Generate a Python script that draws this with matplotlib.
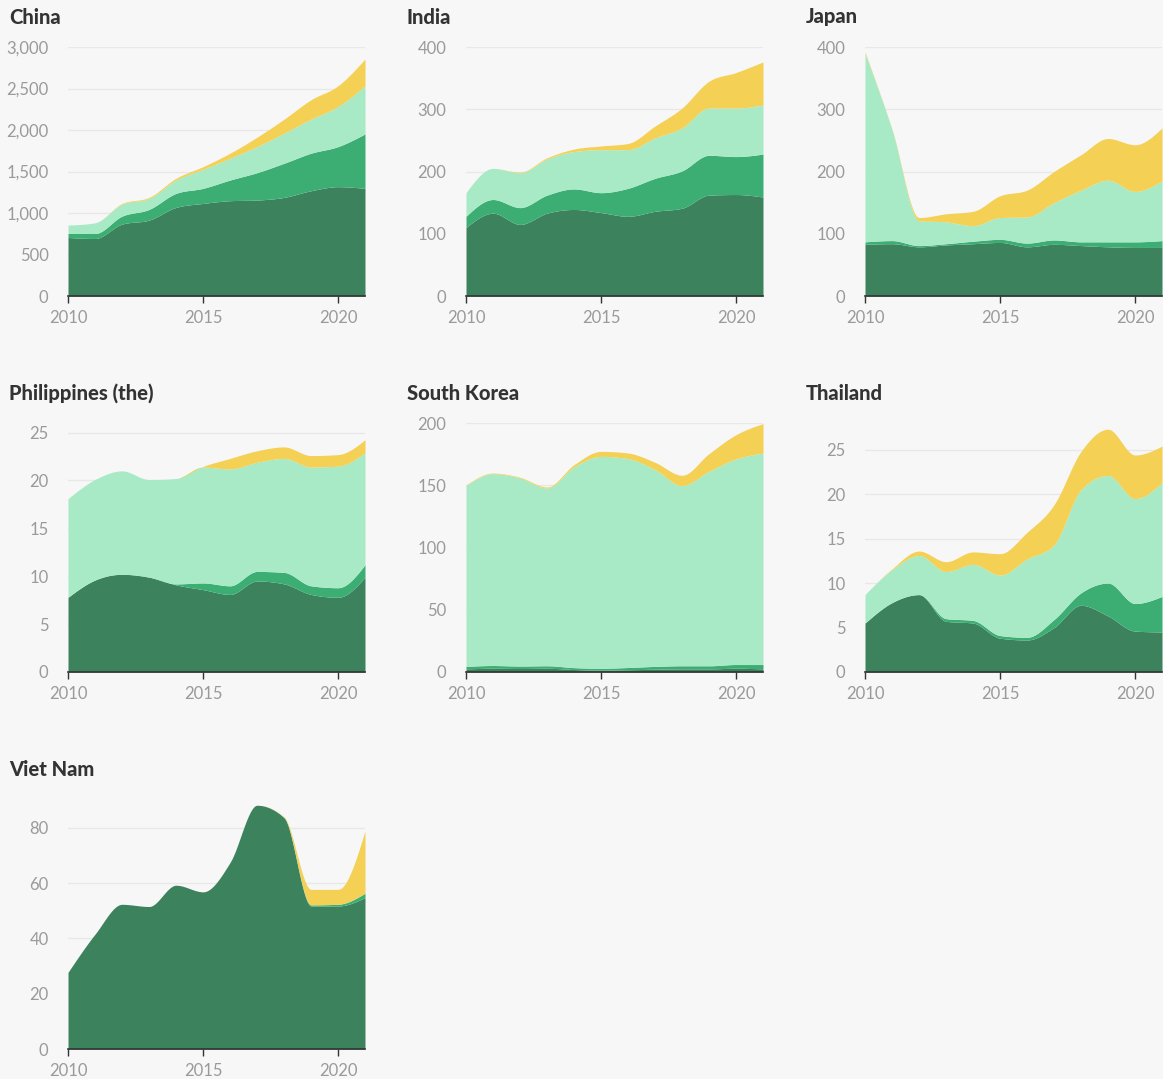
import numpy as np
import matplotlib
matplotlib.use("Agg")
import matplotlib.pyplot as plt
from matplotlib.ticker import FuncFormatter

plt.rcParams['font.family'] = ['Lato', 'DejaVu Sans']

years = list(range(2010, 2022))

countries = ["China", "India", "Japan", "Philippines (the)", "South Korea", "Thailand", "Viet Nam"]

china_dark = [705, 693, 866, 914, 1067, 1115, 1148, 1156, 1188, 1268, 1317, 1297]
china_mid = [48, 60, 96, 129, 169, 182, 249, 330, 411, 452, 483, 656]
china_light = [101, 129, 145, 133, 161, 229, 262, 314, 362, 410, 483, 580]
china_yellow = [0, 0, 8, 12, 21, 32, 61, 113, 169, 234, 250, 322]

india_dark = [110, 133, 115, 133, 139, 134, 128, 136, 141, 162, 163, 159]
india_mid = [18, 22, 27, 29, 33, 32, 45, 53, 60, 64, 61, 69]
india_light = [38, 50, 56, 58, 60, 69, 62, 65, 69, 76, 78, 79]
india_yellow = [0, 0, 1, 2, 4, 6, 10, 19, 32, 43, 57, 69]

japan_dark = [83, 84, 79, 82, 84, 86, 79, 83, 81, 79, 78, 78]
japan_mid = [4, 5, 2, 2, 4, 5, 6, 7, 6, 8, 9, 11]
japan_light = [303, 178, 40, 35, 25, 35, 42, 60, 83, 99, 81, 96]
japan_yellow = [2, 1, 5, 13, 23, 35, 43, 50, 57, 67, 75, 85]

phil_dark = [7.8, 9.6, 10.2, 9.9, 9.1, 8.6, 8.1, 9.5, 9.2, 8.1, 7.8, 9.9]
phil_mid = [0, 0, 0, 0, 0.1, 0.7, 0.9, 1.0, 1.2, 0.9, 1.0, 1.3]
phil_light = [10.3, 10.5, 10.8, 10.2, 11.0, 12.1, 12.2, 11.4, 11.9, 12.4, 12.7, 11.7]
phil_yellow = [0, 0, 0, 0, 0, 0.07, 1.1, 1.2, 1.2, 1.2, 1.2, 1.35]

korea_dark = [2.5, 3.0, 2.8, 3.0, 2.0, 1.5, 1.8, 2.2, 2.5, 2.5, 3.0, 2.5]
korea_mid = [2.0, 2.2, 2.0, 2.0, 1.5, 1.5, 1.8, 2.3, 2.5, 2.5, 3.0, 3.5]
korea_light = [145.2, 154.1, 151.0, 142.8, 161.2, 170.2, 167.8, 158.0, 144.7, 156.2, 165.1, 169.9]
korea_yellow = [0.5, 0.5, 0.6, 0.8, 1.8, 4.0, 4.5, 5.9, 8.3, 14.2, 19.5, 23.6]

thai_dark = [5.5, 7.8, 8.7, 5.7, 5.5, 3.8, 3.6, 5.0, 7.5, 6.3, 4.6, 4.5]
thai_mid = [0, 0, 0, 0.3, 0.3, 0.3, 0.3, 0.9, 1.4, 3.7, 3.1, 4.0]
thai_light = [3.2, 3.7, 4.4, 5.3, 6.3, 6.8, 8.8, 8.4, 11.6, 12.1, 11.8, 12.8]
thai_yellow = [0, 0.1, 0.5, 1.1, 1.4, 2.4, 3.0, 4.5, 4.3, 5.2, 4.9, 4.1]

viet_dark = [27.7, 41.5, 52.3, 51.5, 59.2, 56.8, 67.4, 88.1, 83.6, 51.7, 51.7, 54.7]
viet_mid = [0, 0, 0, 0, 0, 0, 0, 0, 0.1, 0.4, 0.6, 1.6]
viet_light = [0, 0, 0, 0, 0, 0, 0, 0, 0, 0, 0, 0]
viet_yellow = [0, 0, 0, 0, 0, 0, 0, 0, 0.2, 5.6, 5.4, 22.5]

series = {
    "China": [china_dark, china_mid, china_light, china_yellow],
    "India": [india_dark, india_mid, india_light, india_yellow],
    "Japan": [japan_dark, japan_mid, japan_light, japan_yellow],
    "Philippines (the)": [phil_dark, phil_mid, phil_light, phil_yellow],
    "South Korea": [korea_dark, korea_mid, korea_light, korea_yellow],
    "Thailand": [thai_dark, thai_mid, thai_light, thai_yellow],
    "Viet Nam": [viet_dark, viet_mid, viet_light, viet_yellow],
}

y_max = {"China": 3000, "India": 400, "Japan": 400, "Philippines (the)": 26,
         "South Korea": 200, "Thailand": 28, "Viet Nam": 90}
y_ticks = {"China": [0, 500, 1000, 1500, 2000, 2500, 3000],
           "India": [0, 100, 200, 300, 400],
           "Japan": [0, 100, 200, 300, 400],
           "Philippines (the)": [0, 5, 10, 15, 20, 25],
           "South Korea": [0, 50, 100, 150, 200],
           "Thailand": [0, 5, 10, 15, 20, 25],
           "Viet Nam": [0, 20, 40, 60, 80]}

colors = ["#3b825d", "#3cae74", "#a8eac5", "#f4d055"]
BG = "#f7f7f7"


def monotone_curve(x, y, n=40):
    """d3.curveMonotoneX style cubic Hermite through points."""
    x = np.asarray(x, float)
    y = np.asarray(y, float)
    m = len(x)
    h = np.diff(x)
    s = np.diff(y) / h
    t = np.zeros(m)
    for i in range(1, m - 1):
        h0, h1 = h[i - 1], h[i]
        s0, s1 = s[i - 1], s[i]
        p = (s0 * h1 + s1 * h0) / (h0 + h1)
        t[i] = (np.sign(s0) + np.sign(s1)) * min(abs(s0), abs(s1), 0.5 * abs(p))
    t[0] = (3 * s[0] - t[1]) / 2
    t[-1] = (3 * s[-1] - t[-2]) / 2
    xs, ys = [], []
    for i in range(m - 1):
        dx = h[i]
        u = np.linspace(0, 1, n, endpoint=(i == m - 2))
        p0 = y[i]; p3 = y[i + 1]
        p1 = y[i] + dx * t[i] / 3
        p2 = y[i + 1] - dx * t[i + 1] / 3
        bx = x[i] + u * dx
        by = (1 - u) ** 3 * p0 + 3 * (1 - u) ** 2 * u * p1 + 3 * (1 - u) * u ** 2 * p2 + u ** 3 * p3
        xs.append(bx); ys.append(by)
    return np.concatenate(xs), np.concatenate(ys)


W, H = 1163, 1079
fig = plt.figure(figsize=(W / 100, H / 100), dpi=100)
fig.patch.set_facecolor(BG)

col_left = [68, 466, 865]
row_base = [296, 672, 1049]
aw, ah = 297, 249

for idx, name in enumerate(countries):
    r, c = divmod(idx, 3)
    left = col_left[c]
    base = row_base[r]
    ax = fig.add_axes([left / W, 1 - base / H, aw / W, ah / H])
    ax.set_facecolor(BG)
    layers = series[name]
    cum = np.zeros(len(years))
    for k, layer in enumerate(layers):
        lower = cum.copy()
        cum = cum + np.asarray(layer, float)
        xs, ylo = monotone_curve(years, lower)
        _, yhi = monotone_curve(years, cum)
        ax.fill_between(xs, ylo, yhi, color=colors[k], linewidth=0, zorder=2 + k)
    ax.set_xlim(2010, 2021)
    ax.set_ylim(0, y_max[name])
    ax.set_yticks(y_ticks[name])
    ax.yaxis.set_major_formatter(FuncFormatter(lambda v, p: f"{int(v):,}"))
    ax.set_xticks([2010, 2015, 2020])
    ax.grid(axis='y', color="#e8e8e8", linewidth=1, zorder=0)
    ax.set_axisbelow(True)
    for sp in ["top", "right", "left"]:
        ax.spines[sp].set_visible(False)
    ax.spines["bottom"].set_color("#333333")
    ax.spines["bottom"].set_linewidth(1.2)
    ax.spines["bottom"].set_zorder(10)
    ax.tick_params(axis='y', length=0, pad=14, labelsize=12, labelcolor="#9a9a9a")
    ax.tick_params(axis='x', length=5, width=1, color="#333333", pad=5,
                   labelsize=12, labelcolor="#9a9a9a")
    fig.text((left - 59) / W, 1 - (base - ah - 30) / H, name, fontsize=14.5,
             fontweight='black', color="#333333", ha='left', va='center')

fig.savefig("out.png", dpi=100, facecolor=BG)
